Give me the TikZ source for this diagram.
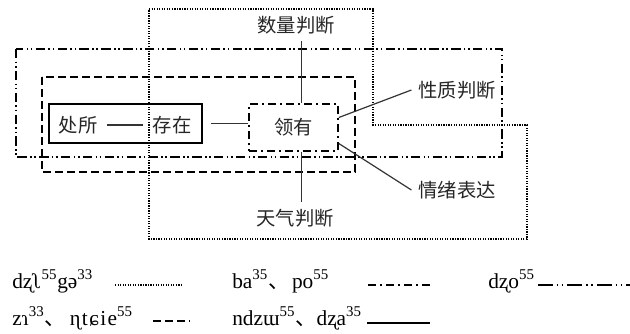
\documentclass[tikz,border=0pt]{standalone}
\usepackage{fontspec}
\setmainfont{Liberation Serif}
\newfontfamily\cjk{Noto Sans CJK SC}
\usetikzlibrary{positioning}

\begin{document}
\begin{tikzpicture}[x=0.75pt,y=-0.75pt,
    lbl/.style={font=\cjk\fontsize{14.5}{16}\selectfont, inner sep=5pt, text=black!85},
    ipa/.style={font=\fontsize{16}{18}\selectfont, anchor=base west, inner sep=0pt},
    conn/.style={line width=0.9pt, draw=black!80},
    dotline/.style={line width=1.2pt, dash pattern=on 0.9pt off 1pt},
    dashline/.style={line width=1.2pt, dash pattern=on 6pt off 3pt},
    dotdashline/.style={line width=1.2pt, dash pattern=on 6pt off 3pt on 1.5pt off 3pt},
    dotdotdashline/.style={line width=1.2pt, dash pattern=on 7pt off 2.5pt on 1.2pt off 2pt on 1.2pt off 2.5pt}]

    \useasboundingbox (0,0) rectangle (630,333);

    % regions
    \draw[dotline] (149,9) -- (373,9) -- (373,125) -- (527,125) -- (527,239) -- (149,239) -- cycle;
    \draw[dotdotdashline] (16,49) rectangle (502,157);
    \draw[dashline] (42,77) rectangle (355,172);

    % boxes
    \node[draw, line width=1.2pt, minimum width=114.75pt, minimum height=29.25pt] (czbox) at (125.5,123.5) {};
    \node[lbl, inner sep=7pt] (cs) at (78,125) {处所};
    \node[lbl, inner sep=7pt] (cz) at (172,125) {存在};
    \node[lbl, draw, dotdashline, minimum width=66.75pt, minimum height=35.25pt] (ly) at (293.5,127.5) {领有};

    % judgements
    \node[lbl] (sl) at (296,25) {数量判断};
    \node[lbl] (tq) at (295,218) {天气判断};
    \node[lbl] (xz) at (457,90) {性质判断};
    \node[lbl] (qx) at (457,190) {情绪表达};

    \draw[conn] (cs) -- (cz);
    \draw[conn] ([xshift=6pt]czbox.east) -- (czbox.east -| ly.west);
    \draw[conn] ([xshift=6pt]ly.north) -- ([xshift=6pt]ly.north |- sl.south);
    \draw[conn] ([xshift=6pt]ly.south) -- ([xshift=6pt]ly.south |- tq.north);
    \draw[conn] ([yshift=7.5pt]ly.east) -- (xz.west);
    \draw[conn] ([yshift=-12pt]ly.east) -- (qx.west);

    % legend
    \node[ipa] (k1) at (12,288) {dʐʅ\textsuperscript{55}gə\textsuperscript{33}};
    \node[ipa] (k2) at (12,325) {zɿ\textsuperscript{33}{\cjk 、}\hspace{3pt}{\addfontfeature{LetterSpace=7}ɳtɕie}\textsuperscript{55}};
    \node[ipa] (k3) at (232,288) {ba\textsuperscript{35}{\cjk 、}\hspace{2pt}po\textsuperscript{55}};
    \node[ipa] (k4) at (232,325) {ndzɯ\textsuperscript{55}{\cjk 、}dʐa\textsuperscript{35}};
    \node[ipa] (k5) at (488,288) {dʐo\textsuperscript{55}};

    \draw[dotline, line width=1.4pt] (115,285) -- (182,285);
    \draw[dashline, line width=1.5pt] (153,321) -- (190,321);
    \draw[dotdashline, line width=1.5pt] (368,285) -- (433,285);
    \draw[line width=1.5pt] (367,323) -- (430,323);
    \draw[line width=1.8pt, dash pattern=on 11pt off 3pt on 1.3pt off 2.5pt on 1.3pt off 3pt] (538,285) -- (630,285);
\end{tikzpicture}
\end{document}
